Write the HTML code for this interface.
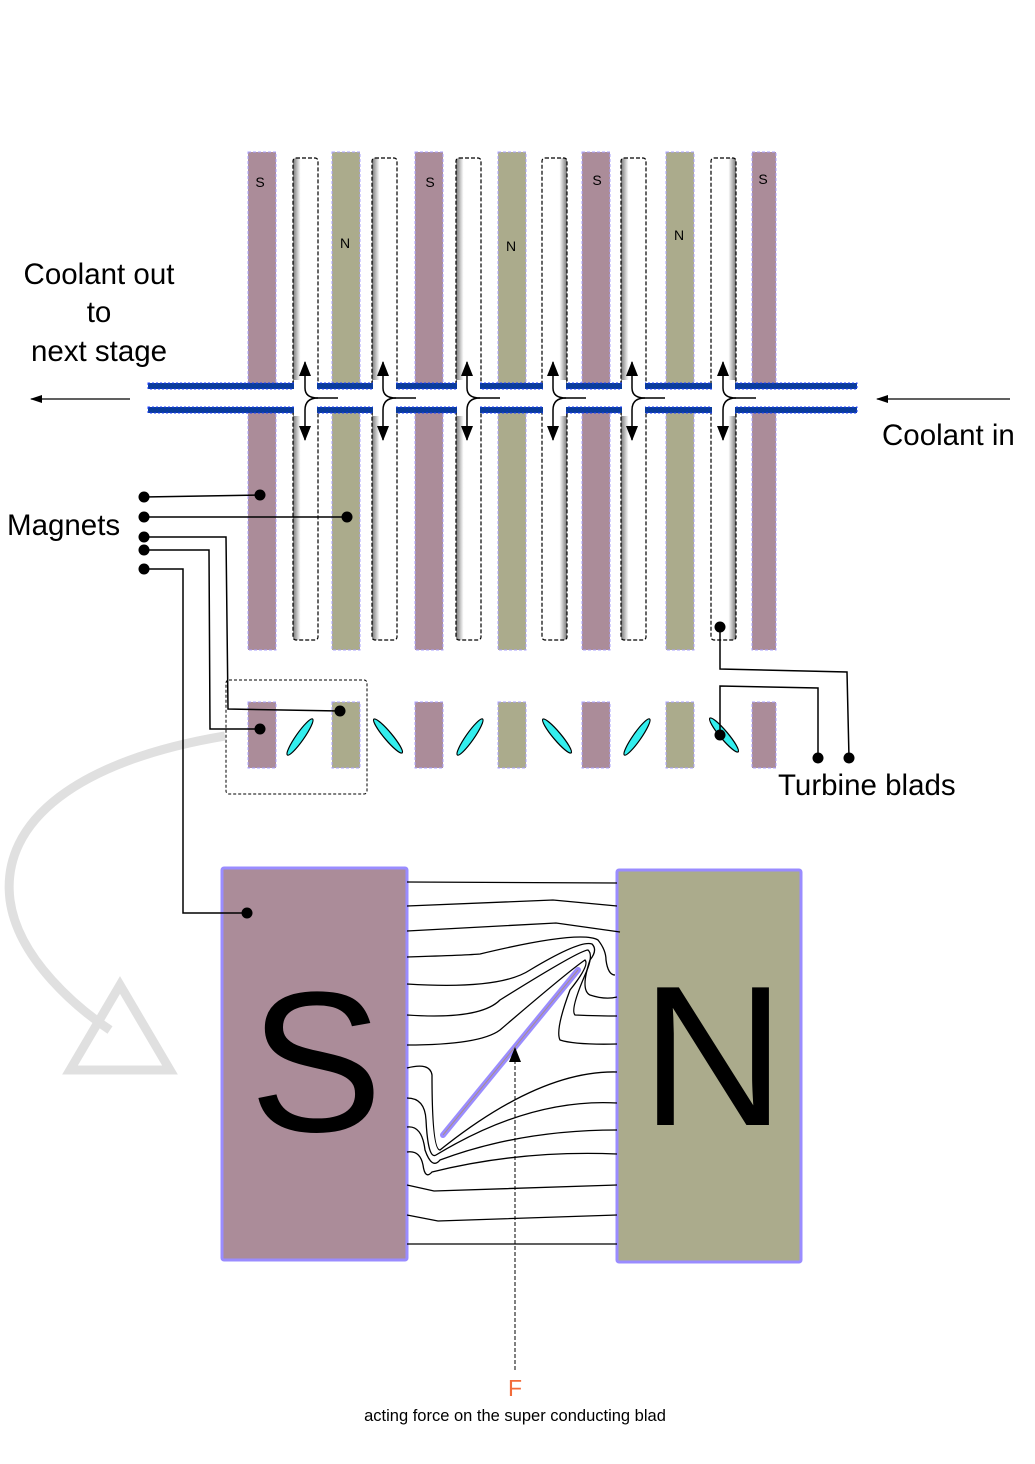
<!DOCTYPE html>
<html><head><meta charset="utf-8"><style>body{margin:0;background:#fff}svg{display:block}</style></head>
<body>
<svg width="1035" height="1464" viewBox="0 0 1035 1464" xmlns="http://www.w3.org/2000/svg" font-family="Liberation Sans, sans-serif">
<defs>
<linearGradient id="tg" x1="0" x2="1"><stop offset="0" stop-color="#fff"/><stop offset="0.7" stop-color="#fff"/><stop offset="1" stop-color="#777"/></linearGradient>
<linearGradient id="tgl" x1="0" x2="1"><stop offset="0" stop-color="#777"/><stop offset="0.3" stop-color="#fff"/><stop offset="1" stop-color="#fff"/></linearGradient>
<marker id="ah" markerWidth="16" markerHeight="14" refX="14" refY="7" orient="auto" markerUnits="userSpaceOnUse"><path d="M0,1 L15,7 L0,13 Z" fill="#000"/></marker>
<marker id="ah2" markerWidth="12" markerHeight="10" refX="11" refY="5" orient="auto" markerUnits="userSpaceOnUse"><path d="M0,1 L12,5 L0,9 Z" fill="#000"/></marker>
</defs>
<g stroke="#a9a0ff" stroke-width="1" stroke-dasharray="3,2">
<rect x="248" y="152" width="28" height="498" fill="#ab8c99"/>
<rect x="332" y="152" width="28" height="498" fill="#abab8c"/>
<rect x="415" y="152" width="28" height="498" fill="#ab8c99"/>
<rect x="498" y="152" width="28" height="498" fill="#abab8c"/>
<rect x="582" y="152" width="28" height="498" fill="#ab8c99"/>
<rect x="666" y="152" width="28" height="498" fill="#abab8c"/>
<rect x="752" y="152" width="24" height="498" fill="#ab8c99"/>
</g>
<g font-size="14" text-anchor="middle">
<text x="260" y="187">S</text><text x="345" y="248">N</text><text x="430" y="187">S</text>
<text x="511" y="251">N</text><text x="597" y="185">S</text><text x="679" y="240">N</text><text x="763" y="184">S</text>
</g>
<g stroke="#000" stroke-width="1.2" stroke-dasharray="4,2">
<rect x="293" y="158" width="25" height="482" rx="3" fill="url(#tgl)"/>
<rect x="372" y="158" width="25" height="482" rx="3" fill="url(#tgl)"/>
<rect x="456" y="158" width="25" height="482" rx="3" fill="url(#tgl)"/>
<rect x="542" y="158" width="25" height="482" rx="3" fill="url(#tg)"/>
<rect x="621" y="158" width="25" height="482" rx="3" fill="url(#tgl)"/>
<rect x="711" y="158" width="25" height="482" rx="3" fill="url(#tg)"/>
</g>
<rect x="148" y="383" width="709" height="30" fill="#fff"/>
<rect x="148" y="383" width="709" height="6" fill="#0a3c9c" stroke="#2040ff" stroke-dasharray="2,2"/>
<rect x="148" y="407" width="709" height="6" fill="#0a3c9c" stroke="#2040ff" stroke-dasharray="2,2"/>
<g fill="#fff"><rect x="294" y="380" width="23" height="36"/><rect x="373" y="380" width="23" height="36"/><rect x="457" y="380" width="23" height="36"/><rect x="543" y="380" width="23" height="36"/><rect x="622" y="380" width="23" height="36"/><rect x="712" y="380" width="23" height="36"/></g>
<g fill="none" stroke="#000" stroke-width="1.5">
<g id="fa"><path d="M338,398 L318,398 Q305,398 305,388 L305,362" marker-end="url(#ah)"/><path d="M318,398 Q305,398 305,410 L305,440" marker-end="url(#ah)"/></g>
<use href="#fa" x="78"/><use href="#fa" x="162"/><use href="#fa" x="248"/><use href="#fa" x="327"/><use href="#fa" x="418"/>
</g>
<g stroke="#000" stroke-width="1.2">
<line x1="130" y1="399" x2="31" y2="399" marker-end="url(#ah2)"/>
<line x1="1010" y1="399" x2="877" y2="399" marker-end="url(#ah2)"/>
</g>
<g font-size="29.5" text-anchor="middle">
<text x="99" y="284">Coolant out</text><text x="99" y="322">to</text><text x="99" y="361">next stage</text>
</g>
<text x="882" y="445" font-size="29.5">Coolant in</text>
<text x="7" y="535" font-size="29.5">Magnets</text>
<text x="778" y="795" font-size="29.5">Turbine blads</text>
<g stroke="#a9a0ff" stroke-width="1" stroke-dasharray="3,2">
<rect x="248" y="702" width="28" height="66" fill="#ab8c99"/>
<rect x="332" y="702" width="28" height="66" fill="#abab8c"/>
<rect x="415" y="702" width="28" height="66" fill="#ab8c99"/>
<rect x="498" y="702" width="28" height="66" fill="#abab8c"/>
<rect x="582" y="702" width="28" height="66" fill="#ab8c99"/>
<rect x="666" y="702" width="28" height="66" fill="#abab8c"/>
<rect x="752" y="702" width="24" height="66" fill="#ab8c99"/>
</g>
<g fill="#33eeee" stroke="#000" stroke-width="1.2">
<ellipse cx="300" cy="737" rx="22" ry="4" transform="rotate(-55 300 737)"/>
<ellipse cx="388" cy="736" rx="22" ry="4" transform="rotate(50 388 736)"/>
<ellipse cx="470" cy="737" rx="22" ry="4" transform="rotate(-55 470 737)"/>
<ellipse cx="557" cy="736" rx="22" ry="4" transform="rotate(50 557 736)"/>
<ellipse cx="637" cy="737" rx="22" ry="4" transform="rotate(-55 637 737)"/>
<ellipse cx="724" cy="735" rx="22" ry="4" transform="rotate(50 724 735)"/>
</g>
<rect x="226" y="680" width="141" height="114" rx="3" fill="none" stroke="#000" stroke-dasharray="3,2"/>
<path d="M225,736 C80,760 0,820 10,900 C18,960 80,1010 110,1030" fill="none" stroke="#e0e0e0" stroke-width="9"/>
<path d="M120,985 L170,1070 L70,1070 Z" fill="none" stroke="#e0e0e0" stroke-width="9"/>
<rect x="222" y="868" width="185" height="392" rx="2" fill="#ab8c99" stroke="#9a8cff" stroke-width="3"/>
<rect x="617" y="870" width="184" height="392" rx="2" fill="#abab8c" stroke="#9a8cff" stroke-width="3"/>
<g fill="none" stroke="#000" stroke-width="1.5">
<line x1="144" y1="497" x2="260" y2="495"/>
<line x1="144" y1="517" x2="347" y2="517"/>
<path d="M144,537 L226,537 L228,709 L340,711"/>
<path d="M144,550 L209,550 L210,729 L260,729"/>
<path d="M144,569 L183,569 L183,913 L247,913"/>
<path d="M720,627 L720,669 L847,672 L849,758"/>
<path d="M720,735 L720,686 L818,688 L818,758"/>
</g>
<g fill="#000">
<circle cx="144" cy="497" r="5.5"/><circle cx="144" cy="517" r="5.5"/><circle cx="144" cy="537" r="5.5"/><circle cx="144" cy="550" r="5.5"/><circle cx="144" cy="569" r="5.5"/>
<circle cx="260" cy="495" r="5.5"/><circle cx="347" cy="517" r="5.5"/><circle cx="340" cy="711" r="5.5"/><circle cx="260" cy="729" r="5.5"/><circle cx="247" cy="913" r="5.5"/>
<circle cx="720" cy="627" r="5.5"/><circle cx="720" cy="735" r="5.5"/><circle cx="818" cy="758" r="5.5"/><circle cx="849" cy="758" r="5.5"/>
</g>
<text x="316" y="1131" font-size="200" text-anchor="middle">S</text>
<text x="713" y="1125" font-size="200" text-anchor="middle">N</text>
<g fill="none" stroke="#000" stroke-width="1.3">
<path d="M407,882 L617,883"/>
<path d="M407,906 L553,900 L617,906"/>
<path d="M407,931 L556,923 L620,932"/>
<path d="M407,957 Q470,955 480,954 Q580,930 598,940 Q606,950 606,960 Q608,975 615,975"/>
<path d="M407,984 Q500,990 530,970 Q580,940 592,944 Q598,950 590,960 Q580,990 590,995 Q605,1000 617,997"/>
<path d="M407,1015 Q480,1020 500,1000 Q580,950 588,950 Q594,955 585,975 Q570,1010 575,1015 Q600,1016 617,1016"/>
<path d="M407,1045 Q480,1045 500,1030 Q570,970 585,960 Q590,965 570,990 Q555,1030 560,1040 Q575,1045 617,1044"/>
<path d="M407,1068 Q430,1062 432,1075 Q432,1150 440,1150 Q540,1070 617,1072"/>
<path d="M407,1098 Q425,1098 426,1120 Q428,1160 436,1155 Q530,1098 617,1103"/>
<path d="M407,1127 Q422,1125 425,1150 Q432,1170 440,1160 Q520,1130 617,1130"/>
<path d="M407,1152 Q420,1150 423,1165 Q425,1180 432,1172 Q520,1150 617,1154"/>
<path d="M407,1185 L434,1191 L617,1185"/>
<path d="M407,1215 L438,1221 L617,1215"/>
<path d="M407,1244 L617,1244"/>
</g>
<line x1="443" y1="1135" x2="578" y2="970" stroke="#9a8cff" stroke-width="6" stroke-linecap="round"/>
<line x1="443" y1="1135" x2="578" y2="970" stroke="#a9908a" stroke-width="1"/>
<line x1="515" y1="1370" x2="515" y2="1048" stroke="#000" stroke-width="1" stroke-dasharray="4,2" marker-end="url(#ah)"/>
<text x="515" y="1396" font-size="23" fill="#f26b3a" text-anchor="middle">F</text>
<text x="515" y="1421" font-size="16.5" text-anchor="middle">acting force on the super conducting blad</text>
</svg>
</body></html>
